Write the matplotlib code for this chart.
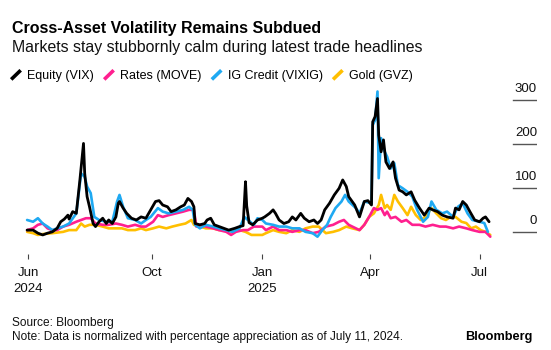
import matplotlib
matplotlib.use("Agg")
import matplotlib.pyplot as plt
import matplotlib.dates as mdates
import matplotlib.transforms as mtransforms
from matplotlib.lines import Line2D
from matplotlib.legend_handler import HandlerBase
import pandas as pd

plt.rcParams['font.family'] = ['Liberation Sans', 'DejaVu Sans']

# ---------------- data (percent change, normalized) ----------------
vix_dates = ['2024-06-19','2024-06-24','2024-06-28','2024-07-02','2024-07-06','2024-07-10','2024-07-14','2024-07-17','2024-07-20','2024-07-23','2024-07-24','2024-07-27','2024-07-30','2024-08-02','2024-08-05','2024-08-06','2024-08-08','2024-08-10','2024-08-13','2024-08-15','2024-08-18','2024-08-21','2024-08-24','2024-08-26','2024-08-29','2024-09-01','2024-09-03','2024-09-04','2024-09-07','2024-09-10','2024-09-14','2024-09-18','2024-09-22',
             '2024-09-26','2024-09-30','2024-10-04','2024-10-07','2024-10-10','2024-10-14','2024-10-17','2024-10-21','2024-10-25','2024-10-28','2024-10-31','2024-11-03','2024-11-05','2024-11-06','2024-11-10','2024-11-14','2024-11-16','2024-11-19','2024-11-22','2024-11-26','2024-11-30','2024-12-04','2024-12-09','2024-12-13','2024-12-16','2024-12-18','2024-12-19','2024-12-21','2024-12-24','2024-12-28','2025-01-01',
             '2025-01-03','2025-01-07','2025-01-10','2025-01-12','2025-01-15','2025-01-19','2025-01-23','2025-01-26','2025-01-29','2025-02-02','2025-02-05','2025-02-09','2025-02-13','2025-02-16','2025-02-19','2025-02-22','2025-02-26','2025-03-02','2025-03-06','2025-03-09','2025-03-12','2025-03-14','2025-03-19','2025-03-23',
             '2025-03-27','2025-03-30','2025-04-02','2025-04-03','2025-04-05','2025-04-07','2025-04-08','2025-04-10','2025-04-12','2025-04-14','2025-04-17','2025-04-20','2025-04-22','2025-04-25','2025-04-28','2025-05-01','2025-05-05','2025-05-08','2025-05-12','2025-05-16','2025-05-20','2025-05-23','2025-05-27','2025-05-31','2025-06-04','2025-06-09','2025-06-11','2025-06-14','2025-06-17','2025-06-20','2025-06-23','2025-06-27','2025-07-01','2025-07-04','2025-07-06','2025-07-09']
vix_values = [5,5,-2,-6,-2,1,9,24,30,39,30,47,43,119,202,134,81,58,20,13,24,32,20,28,20,35,66,70,55,43,32,28,35,
              32,51,70,72,62,58,47,51,58,62,77,70,58,20,17,20,28,32,17,13,9,5,9,13,15,115,60,22,17,28,32,
              35,43,51,43,28,20,24,35,28,43,32,24,28,20,28,51,66,85,100,119,104,81,62,35,
              70,72,62,251,263,304,221,183,210,160,145,160,123,96,92,85,92,73,55,39,55,51,47,39,35,32,55,51,70,62,47,28,24,32,35,24]

move_dates = ['2024-06-19','2024-06-24','2024-06-28','2024-07-02','2024-07-06','2024-07-10','2024-07-14','2024-07-19','2024-07-24','2024-07-30','2024-08-03','2024-08-07','2024-08-11','2024-08-15','2024-08-21','2024-08-26','2024-09-01','2024-09-06','2024-09-11','2024-09-17','2024-09-22',
              '2024-09-26','2024-10-02','2024-10-06','2024-10-10','2024-10-15','2024-10-21','2024-10-27','2024-11-01','2024-11-05','2024-11-07','2024-11-11','2024-11-15','2024-11-21','2024-11-26','2024-12-02','2024-12-06','2024-12-10','2024-12-16','2024-12-20','2024-12-25','2025-01-01',
              '2025-01-04','2025-01-10','2025-01-15','2025-01-21','2025-01-26','2025-02-01','2025-02-06','2025-02-12','2025-02-17','2025-02-23','2025-03-01','2025-03-06','2025-03-10','2025-03-14','2025-03-20','2025-03-23',
              '2025-03-27','2025-03-31','2025-04-04','2025-04-07','2025-04-10','2025-04-13','2025-04-15','2025-04-18','2025-04-22','2025-04-27','2025-05-01','2025-05-06','2025-05-12','2025-05-17','2025-05-23','2025-05-29','2025-06-03','2025-06-09','2025-06-14','2025-06-20','2025-06-25','2025-07-01','2025-07-06','2025-07-10']
move_values = [5,9,17,20,9,5,5,13,17,24,28,32,32,20,17,17,20,17,13,17,13,
               13,24,39,35,39,43,47,51,51,13,17,13,9,5,1,-6,1,5,5,13,13,
               5,13,5,5,1,5,5,-2,1,13,17,24,28,17,9,5,
               17,35,55,51,55,39,47,32,35,24,28,17,17,13,17,13,13,9,13,9,5,1,1,-10]

vixig_dates = ['2024-06-19','2024-06-24','2024-06-28','2024-07-02','2024-07-06','2024-07-10','2024-07-14','2024-07-19','2024-07-24','2024-07-30','2024-08-03','2024-08-06','2024-08-08','2024-08-11','2024-08-14','2024-08-18','2024-08-24','2024-08-29','2024-09-02','2024-09-04','2024-09-07','2024-09-11','2024-09-17','2024-09-22',
               '2024-09-26','2024-09-30','2024-10-06','2024-10-10','2024-10-15','2024-10-21','2024-10-27','2024-11-01','2024-11-04','2024-11-06','2024-11-10','2024-11-15','2024-11-21','2024-11-26','2024-12-02','2024-12-07','2024-12-13','2024-12-17','2024-12-20','2024-12-25','2024-12-28','2025-01-01',
               '2025-01-04','2025-01-10','2025-01-15','2025-01-21','2025-01-26','2025-02-01','2025-02-06','2025-02-12','2025-02-16','2025-02-20','2025-02-24','2025-02-27','2025-03-03','2025-03-08','2025-03-11','2025-03-14','2025-03-20','2025-03-23',
               '2025-03-27','2025-04-02','2025-04-03','2025-04-05','2025-04-07','2025-04-08','2025-04-10','2025-04-13','2025-04-15','2025-04-18','2025-04-21','2025-04-24','2025-04-28','2025-05-02','2025-05-06','2025-05-10','2025-05-15','2025-05-19','2025-05-22','2025-05-26','2025-05-31','2025-06-04','2025-06-09','2025-06-13','2025-06-17','2025-06-21','2025-06-25','2025-07-01','2025-07-05','2025-07-08']
vixig_values = [28,24,32,20,13,5,9,13,20,43,134,126,104,89,35,28,24,24,70,85,58,32,28,20,
                28,35,55,47,43,47,51,58,51,17,9,17,13,9,5,1,9,35,28,17,32,28,
                20,17,13,13,9,9,1,-2,-10,5,17,35,55,70,85,70,55,43,
                70,66,244,255,320,123,214,183,172,145,157,107,100,92,81,51,24,35,70,51,43,47,35,58,66,43,28,24,21,1]

gvz_dates = ['2024-06-19','2024-06-24','2024-06-28','2024-07-02','2024-07-10','2024-07-19','2024-07-24','2024-07-30','2024-08-03','2024-08-06','2024-08-10','2024-08-15','2024-08-21','2024-08-26','2024-09-01','2024-09-06','2024-09-11','2024-09-17','2024-09-22',
             '2024-09-26','2024-10-02','2024-10-07','2024-10-13','2024-10-18','2024-10-24','2024-10-29','2024-11-03','2024-11-05','2024-11-10','2024-11-15','2024-11-21','2024-11-26','2024-12-02','2024-12-07','2024-12-13','2024-12-18','2024-12-23','2024-12-28','2025-01-01',
             '2025-01-04','2025-01-10','2025-01-15','2025-01-21','2025-01-26','2025-02-01','2025-02-06','2025-02-12','2025-02-17','2025-02-23','2025-03-01','2025-03-06','2025-03-12','2025-03-17','2025-03-23',
             '2025-03-27','2025-03-31','2025-04-04','2025-04-08','2025-04-10','2025-04-13','2025-04-15','2025-04-18','2025-04-21','2025-04-24','2025-04-28','2025-05-02','2025-05-05','2025-05-09','2025-05-13','2025-05-17','2025-05-22','2025-05-26','2025-05-30','2025-06-03','2025-06-07','2025-06-11','2025-06-16','2025-06-20','2025-06-24','2025-06-28','2025-07-02','2025-07-06','2025-07-10']
gvz_values = [1,-2,-6,-4,-2,1,5,5,20,13,17,17,13,9,9,9,5,5,9,
              5,9,13,9,13,17,20,28,17,13,9,9,5,5,1,5,1,-6,-6,-6,
              -2,5,1,-2,5,1,9,13,13,-2,1,5,13,9,5,
              17,35,43,62,85,55,62,51,85,70,55,39,58,39,28,35,55,43,32,28,35,35,24,21,9,13,5,1,-6]

series_names = ['Equity (VIX)', 'Rates (MOVE)', 'IG Credit (VIXIG)', 'Gold (GVZ)']
series_colors = ['#000000', '#ff1f8f', '#1ea9f2', '#ffbf00']

y_ticks = [0, 100, 200, 300]
x_tick_dates = ['2024-06-20', '2024-10-01', '2025-01-01', '2025-04-01', '2025-07-01']
x_tick_labels = ['Jun\n2024', 'Oct', 'Jan\n2025', 'Apr', 'Jul']

# ---------------- figure ----------------
W, H = 551, 350
fig = plt.figure(figsize=(W / 100, H / 100), dpi=100)
fig.patch.set_facecolor('white')

ax_l, ax_r, ax_t, ax_b = 20, 537, 85, 254
ax = fig.add_axes([ax_l / W, 1 - ax_b / H, (ax_r - ax_l) / W, (ax_b - ax_t) / H])

series = [
    (vix_dates, vix_values),
    (move_dates, move_values),
    (vixig_dates, vixig_values),
    (gvz_dates, gvz_values),
]
# draw gold first, black last (on top)
order = [3, 1, 2, 0]
for i in order:
    d, v = series[i]
    ax.plot(pd.to_datetime(d), v, color=series_colors[i], lw=2.0 if i == 0 else 1.9,
            solid_joinstyle='round', solid_capstyle='round', zorder=3 + order.index(i))

# axis scaling: Jan 1 2025 at 262.3 px, 1.2 px/day; 0 at 232.3 px, 0.44 px/unit
jan1 = mdates.date2num(pd.Timestamp('2025-01-01'))
ax.set_xlim(jan1 + (ax_l - 262.3) / 1.2, jan1 + (ax_r - 262.3) / 1.2)
ax.set_ylim((232.3 - ax_b) / 0.44, (232.3 - ax_t) / 0.44)

for s in ax.spines.values():
    s.set_visible(False)

ax.set_xticks(pd.to_datetime(x_tick_dates))
ax.set_xticklabels(x_tick_labels, fontsize=9.5, color='#111111', linespacing=1.45)
ax.tick_params(axis='x', direction='out', length=3.5, width=0.8, color='#444444', pad=6)
ax.set_yticks([])

# right-side value labels with short rule lines
xmin_frac = (513 - ax_l) / (ax_r - ax_l)
lab_trans = mtransforms.offset_copy(ax.get_yaxis_transform(), fig=fig, x=0, y=5, units='dots')
for t in y_ticks:
    ax.axhline(t, xmin=xmin_frac, xmax=1.0, color='#555555', lw=1.0, zorder=1)
    ax.text(1.0, t, f'{t}', transform=lab_trans, ha='right', va='bottom',
            fontsize=9.5, color='#111111')

# ---------------- titles ----------------
fig.text(12 / W, 1 - 21 / H, 'Cross-Asset Volatility Remains Subdued',
         fontsize=11.5, fontweight='bold', va='top', ha='left', color='#000000')
fig.text(12 / W, 1 - 40 / H, 'Markets stay stubbornly calm during latest trade headlines',
         fontsize=11.4, va='top', ha='left', color='#111111')

# ---------------- legend with slash markers ----------------
class SlashHandler(HandlerBase):
    def create_artists(self, legend, orig_handle, xdescent, ydescent,
                       width, height, fontsize, trans):
        x0 = -xdescent
        y0 = -ydescent
        ln = Line2D([x0 + 0.1 * width, x0 + 0.9 * width],
                    [y0 - 0.05 * height, y0 + 1.0 * height],
                    color=orig_handle.get_color(), lw=2.6, solid_capstyle='butt',
                    transform=trans)
        return [ln]

handles = [Line2D([], [], color=c) for c in series_colors]
fig.legend(handles, series_names, handler_map={Line2D: SlashHandler()},
           loc='center left', bbox_to_anchor=(10 / W, 1 - 76 / H), ncol=4,
           frameon=False, fontsize=9, handlelength=0.95, handletextpad=0.45,
           columnspacing=0.7, borderpad=0, borderaxespad=0)

# ---------------- footer ----------------
fig.text(12 / W, 1 - 317 / H, 'Source: Bloomberg', fontsize=8.6, va='top', ha='left', color='#111111')
fig.text(12 / W, 1 - 331 / H, 'Note: Data is normalized with percentage appreciation as of July 11, 2024.',
         fontsize=8.6, va='top', ha='left', color='#111111')
fig.text(532 / W, 1 - 331 / H, 'Bloomberg', fontsize=9.2, fontweight='bold',
         va='top', ha='right', color='#000000')

fig.savefig('out.png', dpi=100, facecolor='white')
